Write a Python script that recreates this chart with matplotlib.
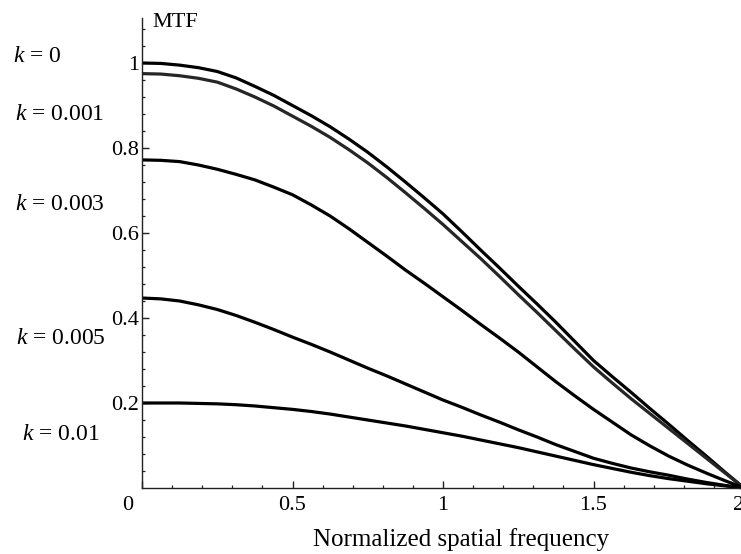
import matplotlib
matplotlib.use("Agg")
import matplotlib.pyplot as plt
import matplotlib.transforms as mtransforms
from matplotlib.ticker import MultipleLocator, FixedLocator
import numpy as np

# normalized spatial frequency samples
freq = [0, 0.0625, 0.125, 0.1875, 0.25, 0.3125, 0.375, 0.4375, 0.5,
        0.5625, 0.625, 0.6875, 0.75, 0.8125, 0.875, 0.9375, 1.0,
        1.0625, 1.125, 1.1875, 1.25, 1.3125, 1.375, 1.4375, 1.5,
        1.5625, 1.625, 1.6875, 1.75, 1.8125, 1.875, 1.9375, 2.0]

# MTF for each k
mtf_k0 = [1.0, 0.999, 0.995, 0.989, 0.98, 0.965, 0.945, 0.924, 0.90,
          0.876, 0.85, 0.821, 0.79, 0.756, 0.72, 0.683, 0.645,
          0.603, 0.56, 0.518, 0.475, 0.433, 0.39, 0.345, 0.30,
          0.262, 0.225, 0.187, 0.15, 0.112, 0.075, 0.037, 0.0]
mtf_k001 = [0.975, 0.974, 0.97, 0.964, 0.955, 0.939, 0.92, 0.899, 0.875,
            0.851, 0.825, 0.796, 0.765, 0.731, 0.695, 0.658, 0.62,
            0.58, 0.54, 0.498, 0.455, 0.413, 0.37, 0.327, 0.285,
            0.247, 0.21, 0.175, 0.14, 0.105, 0.07, 0.035, 0.0]
mtf_k003 = [0.772, 0.771, 0.768, 0.76, 0.75, 0.738, 0.725, 0.708, 0.69,
            0.666, 0.64, 0.61, 0.578, 0.546, 0.513, 0.482, 0.45,
            0.418, 0.385, 0.353, 0.32, 0.285, 0.25, 0.217, 0.185,
            0.155, 0.125, 0.099, 0.075, 0.054, 0.035, 0.017, 0.0]
mtf_k005 = [0.447, 0.445, 0.44, 0.431, 0.42, 0.406, 0.39, 0.373, 0.355,
            0.338, 0.32, 0.301, 0.282, 0.264, 0.245, 0.226, 0.207,
            0.19, 0.172, 0.155, 0.137, 0.12, 0.102, 0.086, 0.07,
            0.058, 0.047, 0.038, 0.03, 0.021, 0.013, 0.006, 0.0]
mtf_k01 = [0.2, 0.2, 0.2, 0.199, 0.198, 0.196, 0.193, 0.189, 0.185,
           0.18, 0.174, 0.167, 0.16, 0.153, 0.146, 0.138, 0.13,
           0.122, 0.113, 0.104, 0.095, 0.085, 0.075, 0.065, 0.055,
           0.046, 0.037, 0.029, 0.022, 0.016, 0.01, 0.005, 0.0]

curve_labels = ["0", "0.001", "0.003", "0.005", "0.01"]
label_y_px = [56, 114, 204, 338, 435]   # centre of each k label, pixels from top
label_x_px = [13, 15, 15, 16, 22]

x_ticks = [0, 0.5, 1, 1.5, 2]
x_ticklabels = ["0", "0.5", "1", "1.5", "2"]
y_ticks = [0.2, 0.4, 0.6, 0.8, 1.0]
y_ticklabels = ["0.2", "0.4", "0.6", "0.8", "1"]

plt.rcParams['font.family'] = ['Liberation Serif', 'DejaVu Serif']
plt.rcParams['mathtext.fontset'] = 'custom'
plt.rcParams['mathtext.rm'] = 'Liberation Serif'
plt.rcParams['mathtext.it'] = 'Liberation Serif:italic'

W, H = 741, 554
fig = plt.figure(figsize=(W / 100, H / 100), dpi=100)

# axes: x=0 at px 142, x=2 at px 744 (a bit past the right edge); y=0 at px 488, top at px 18
ax = fig.add_axes([142 / W, 1 - 488 / H, (744 - 142) / W, (488 - 18) / H])
ax.set_xlim(0, 2)
ax.set_ylim(0, (488 - 18) / 425)

for series, col in zip([mtf_k0, mtf_k001, mtf_k003, mtf_k005, mtf_k01],
                       ['black', '#262626', 'black', 'black', 'black']):
    ax.plot(freq, series, color=col, lw=2.3, solid_capstyle='butt', clip_on=False)

for s in ['top', 'right']:
    ax.spines[s].set_visible(False)
for s in ['left', 'bottom']:
    ax.spines[s].set_linewidth(1.0)
    ax.spines[s].set_color('#222222')

ax.xaxis.set_major_locator(FixedLocator(x_ticks))
ax.set_xticklabels(x_ticklabels)
ax.xaxis.set_minor_locator(MultipleLocator(0.1))
ax.yaxis.set_major_locator(FixedLocator(y_ticks))
ax.set_yticklabels(y_ticklabels)
ax.yaxis.set_minor_locator(FixedLocator(np.arange(0.04, 1.1, 0.04)))

ax.tick_params(which='major', direction='in', length=5, width=1.0, labelsize=16, color='#222222')
ax.tick_params(which='minor', direction='in', length=2.5, width=0.9, color='#222222')
ax.tick_params(axis='x', which='major', pad=6)
ax.tick_params(axis='y', which='major', pad=2)

# the "0" label sits left of the origin, as in Mathematica; "2" is nudged so most of it shows
xlabs = ax.get_xticklabels()
xlabs[0].set_transform(xlabs[0].get_transform() + mtransforms.ScaledTranslation(-14 / 100, 0, fig.dpi_scale_trans))
xlabs[-1].set_transform(xlabs[-1].get_transform() + mtransforms.ScaledTranslation(-5 / 100, 0, fig.dpi_scale_trans))

fig.text(152 / W, 1 - 27 / H, "MTF", fontsize=16, va='baseline', ha='left')
fig.text(461 / W, 1 - 540 / H, "Normalized spatial frequency", fontsize=18, va='center', ha='center')

for lab, xp, yp in zip(curve_labels, label_x_px, label_y_px):
    fig.text(xp / W, 1 - yp / H, r"$k$ = " + lab, fontsize=17, va='center', ha='left')

fig.savefig("out.png", dpi=100)
